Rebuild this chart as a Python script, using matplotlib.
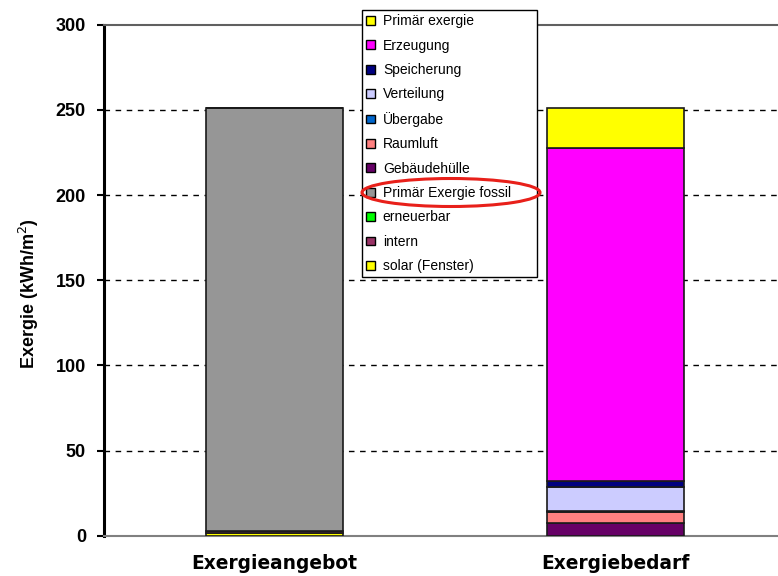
import numpy as np
import matplotlib.pyplot as plt
from matplotlib.patches import Patch, Ellipse

# =============================
# Data
# =============================
categories = ["Exergieangebot", "Exergiebedarf"]

# stacking order, bottom to top
series_names = ["solar (Fenster)", "intern", "erneuerbar", "Primär Exergie fossil",
                "Gebäudehülle", "Raumluft", "Übergabe", "Verteilung",
                "Speicherung", "Erzeugung", "Primär exergie"]
solar = [1.5, 0]
intern = [1.5, 0]
erneuerbar = [0, 0]
fossil = [248, 0]
huelle = [0, 7.2]
raumluft = [0, 6.8]
uebergabe = [0, 0.6]
verteilung = [0, 14.2]
speicherung = [0, 3.5]
erzeugung = [0, 195.2]
primaer = [0, 23.5]

series_values = [solar, intern, erneuerbar, fossil, huelle, raumluft,
                 uebergabe, verteilung, speicherung, erzeugung, primaer]
series_colors = ["#FFFF00", "#993366", "#00FF00", "#969696", "#660066", "#FF8080",
                 "#0066CC", "#CCCCFF", "#000080", "#FF00FF", "#FFFF00"]

yticks = [0, 50, 100, 150, 200, 250, 300]

# =============================
# Figure
# =============================
plt.rcParams['font.family'] = ['Liberation Sans', 'DejaVu Sans']

fig = plt.figure(figsize=(7.78, 5.76), dpi=100)
ax = fig.add_axes([104 / 778, 40.3 / 576, 682 / 778, 511 / 576])

x = np.arange(len(categories))
bottom = np.zeros(len(categories))
for name, vals, col in zip(series_names, series_values, series_colors):
    vals = np.array(vals, dtype=float)
    ax.bar(x, vals, width=0.4, bottom=bottom, color=col,
           edgecolor="#1a1a1a", linewidth=1.2, zorder=3)
    bottom += vals

ax.set_xlim(-0.5, 1.5)
ax.set_ylim(0, 300)
ax.set_yticks(yticks)
ax.set_xticks(x)
ax.set_xticklabels(categories, fontsize=13.4, fontweight="bold", family="DejaVu Sans")
ax.tick_params(axis="x", length=0, pad=13)
ax.tick_params(axis="y", direction="out", length=5, width=1.5, labelsize=13, pad=8)
for lab in ax.get_yticklabels():
    lab.set_fontweight("bold")

for yv in yticks[1:-1]:
    ax.axhline(yv, color="black", linewidth=1, linestyle=(0, (4, 4)), zorder=1)

ax.spines["left"].set_linewidth(2.2)
ax.spines["left"].set_color("black")
ax.spines["bottom"].set_color("#808080")
ax.spines["bottom"].set_linewidth(1.5)
ax.spines["top"].set_color("#606060")
ax.spines["top"].set_linewidth(1.5)
ax.spines["right"].set_visible(False)

ax.set_ylabel("Exergie (kWh/m$^2$)", fontsize=13, fontweight="bold")
ax.yaxis.set_label_coords(-0.093, 0.473)

# =============================
# Legend (reverse order, like Excel)
# =============================
handles = [Patch(facecolor=c, edgecolor="black", linewidth=1)
           for c in series_colors[::-1]]
leg = fig.legend(handles, series_names[::-1], loc="upper left", mode="expand",
                 bbox_to_anchor=(362 / 778, 1 - 281 / 576, 175 / 778, 271 / 576),
                 bbox_transform=fig.transFigure,
                 fontsize=10, frameon=True, fancybox=False, framealpha=1,
                 edgecolor="black", handlelength=0.6, handleheight=0.6,
                 handletextpad=0.6, labelspacing=0.75, borderpad=0.3,
                 borderaxespad=0)
leg.get_frame().set_linewidth(1)

# red highlight round "Primär Exergie fossil"
ell = Ellipse((451 / 778, 1 - 192.5 / 576), 178 / 778, 28 / 576,
              transform=fig.transFigure, fill=False, edgecolor="#E8201A",
              linewidth=2.2, zorder=10)
fig.add_artist(ell)

fig.savefig("out.png", dpi=100)
